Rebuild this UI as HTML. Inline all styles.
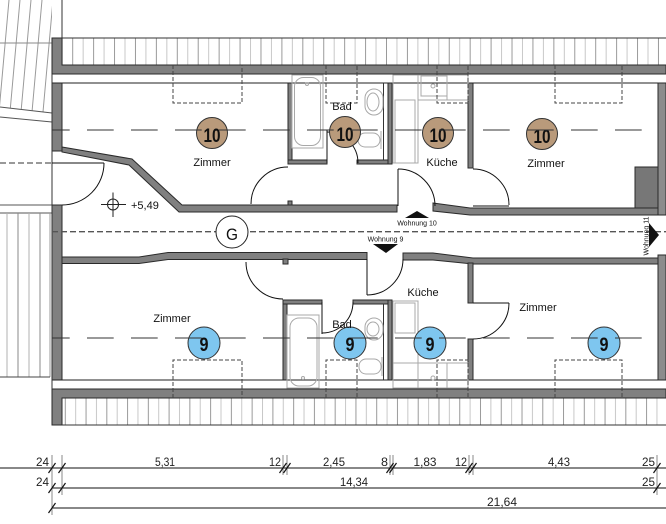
<!DOCTYPE html>
<html><head><meta charset="utf-8">
<style>
html,body{margin:0;padding:0;background:#fff;}
svg{display:block;}
text{font-family:"Liberation Sans",Arial,sans-serif;}
</style></head><body>
<svg width="666" height="524" viewBox="0 0 666 524" xmlns="http://www.w3.org/2000/svg">
<defs>
<pattern id="ht" patternUnits="userSpaceOnUse" x="71.7" y="0" width="20.92" height="20">
<line x1="1" y1="0" x2="1" y2="20" stroke="#9a9a9a" stroke-width="1"/>
<line x1="11.46" y1="0" x2="11.46" y2="20" stroke="#c8c8c8" stroke-width="1"/>
</pattern>
<pattern id="hb" patternUnits="userSpaceOnUse" x="64.3" y="0" width="20.76" height="20">
<line x1="1" y1="0" x2="1" y2="20" stroke="#9a9a9a" stroke-width="1"/>
<line x1="11.38" y1="0" x2="11.38" y2="20" stroke="#c8c8c8" stroke-width="1"/>
</pattern>
<clipPath id="cs1"><polygon points="0,0 52,0 52,113 0,107"/></clipPath>
</defs>
<rect width="666" height="524" fill="#fff"/>

<!-- top-left stair -->
<g clip-path="url(#cs1)" stroke-width="1" stroke="#9a9a9a">
<line x1="-12" y1="112" x2="-2" y2="0"/>
<line x1="-1" y1="112" x2="9" y2="0"/>
<line x1="10" y1="112" x2="20" y2="0"/>
<line x1="21" y1="112" x2="31" y2="0"/>
<line x1="32" y1="112" x2="42" y2="0"/>
<line x1="43" y1="112" x2="53" y2="0"/>
</g>
<line x1="0" y1="43" x2="52" y2="43" stroke="#888"/>
<line x1="0" y1="107" x2="52" y2="113" stroke="#555"/>
<line x1="0" y1="117" x2="52" y2="122" stroke="#555"/>
<line x1="62" y1="0" x2="62" y2="38" stroke="#333"/>
<line x1="0" y1="163" x2="52" y2="163" stroke="#333" stroke-dasharray="6 3"/>

<!-- bottom-left stair -->
<line x1="0" y1="205" x2="52" y2="205" stroke="#555"/>
<line x1="0" y1="213" x2="52" y2="213" stroke="#555"/>
<line x1="7" y1="213" x2="7" y2="377" stroke="#b0b0b0"/>
<line x1="18" y1="213" x2="18" y2="377" stroke="#888"/>
<line x1="29" y1="213" x2="29" y2="377" stroke="#b0b0b0"/>
<line x1="40" y1="213" x2="40" y2="377" stroke="#888"/>
<line x1="50" y1="213" x2="50" y2="377" stroke="#999"/>
<line x1="0" y1="377" x2="50" y2="377" stroke="#444"/>

<!-- roof hatch top/bottom -->
<rect x="62" y="38.5" width="604" height="26.5" fill="url(#ht)"/>
<line x1="52" y1="38" x2="666" y2="38" stroke="#333"/>
<rect x="62" y="398" width="604" height="27" fill="url(#hb)"/>
<line x1="52" y1="425" x2="666" y2="425" stroke="#333"/>

<g fill="#808080" stroke="#2a2a2a" stroke-width="1">
<polygon points="52,38 62,38 62,65 666,65 666,74 52,74"/>
<polygon points="52,389 666,389 666,398 62,398 62,425 52,425"/>
<rect x="52" y="83" width="10" height="68"/>
<polygon points="62,147 132,159 182,205 397,205 397,212 179,212 129,165 62,152"/>
<rect x="288" y="201" width="4" height="4"/>
<polygon points="433,203 470,208 658,208 658,215 470,215 433,211"/>
<rect x="52" y="205" width="10" height="175"/>
<polygon points="62,257 139,257 168,252.5 367,252.5 367,259.5 168,259.5 139,263.5 62,263.5"/>
<rect x="283" y="259" width="5" height="5"/>
<polygon points="403,253 433,253 473,258 658,258 658,264 473,264 433,260 403,260"/>
<!-- inner walls top -->
<rect x="288" y="83" width="4" height="81"/>
<rect x="288" y="160" width="39" height="4"/>
<rect x="357" y="160" width="35" height="4"/>
<rect x="388" y="83" width="4" height="81"/>
<rect x="468" y="83" width="5" height="85"/>
<!-- inner walls bottom -->
<rect x="283" y="300" width="4" height="80"/>
<rect x="283" y="300" width="39" height="4"/>
<rect x="353" y="300" width="39" height="4"/>
<rect x="388" y="300" width="4" height="80"/>
<rect x="468" y="263" width="5" height="40"/>
<rect x="468" y="339" width="5" height="41"/>
</g>
<g stroke="#2a2a2a" stroke-width="1">
<rect x="658" y="83" width="8" height="132" fill="#8c8c8c"/>
<rect x="635" y="167" width="23" height="41" fill="#777"/>
<rect x="658" y="255" width="8" height="125" fill="#8c8c8c"/>
</g>
<line x1="52" y1="83" x2="658" y2="83" stroke="#222"/>
<line x1="52" y1="380" x2="658" y2="380" stroke="#222"/>
<line x1="52" y1="74" x2="52" y2="389" stroke="#333"/>
<line x1="383.5" y1="83" x2="383.5" y2="160" stroke="#333"/>
<line x1="383.5" y1="304" x2="383.5" y2="380" stroke="#333"/>

<!-- furniture -->
<g fill="none" stroke="#a8a8a8" stroke-width="1">
<rect x="292" y="75" width="31" height="73"/>
<rect x="294.5" y="77.5" width="26" height="68" rx="9"/>
<circle cx="307" cy="84" r="1.5"/>
<rect x="365" y="89" width="18" height="26" rx="9"/>
<ellipse cx="373" cy="102" rx="6" ry="9"/>
<rect x="358" y="133" width="22" height="14" rx="7"/>
<line x1="381" y1="131" x2="381" y2="149"/>
<rect x="393" y="75" width="25" height="88"/>
<rect x="395" y="100" width="20" height="63"/>
<rect x="418" y="75" width="50" height="25"/>
<rect x="421" y="76" width="26" height="20"/>
<circle cx="433" cy="86" r="2"/>
<line x1="447" y1="75" x2="447" y2="100"/>
<!-- bottom -->
<rect x="287" y="315" width="32" height="73"/>
<rect x="290" y="318" width="27" height="68" rx="9"/>
<circle cx="303" cy="378" r="1.5"/>
<rect x="365" y="318" width="18" height="22" rx="9"/>
<ellipse cx="373" cy="329" rx="6" ry="7"/>
<rect x="359" y="359" width="22" height="15" rx="7"/>
<line x1="382" y1="357" x2="382" y2="376"/>
<rect x="393" y="301" width="25" height="87"/>
<rect x="395" y="303" width="20" height="30"/>
<rect x="393" y="363" width="25" height="25"/>
<rect x="418" y="363" width="29" height="25"/>
<rect x="447" y="363" width="21" height="25"/>
<circle cx="433" cy="378" r="2"/>
</g>

<!-- skylights -->
<g fill="none" stroke="#444" stroke-width="1" stroke-dasharray="4 2">
<path d="M173,65 V103 H242 V65"/>
<path d="M326,65 V103 H357 V65"/>
<path d="M437,65 V103 H468 V65"/>
<path d="M555,65 V103 H622 V65"/>
<path d="M173,398 V360 H242 V398"/>
<path d="M326,398 V360 H357 V398"/>
<path d="M437,398 V360 H468 V398"/>
<path d="M555,398 V360 H622 V398"/>
</g>

<!-- doors -->
<g fill="none" stroke="#111" stroke-width="1">
<line x1="52" y1="163" x2="104" y2="163"/>
<path d="M104,163 A42,42 0 0,1 62,205"/>
<path d="M251,204 A37,37 0 0,1 288,167"/>
<line x1="327" y1="130" x2="327" y2="163"/>
<path d="M327,132 A31,31 0 0,1 358,163"/>
<line x1="398" y1="169" x2="398" y2="206"/>
<path d="M398,169 A37,37 0 0,1 435,206"/>
<line x1="473" y1="206" x2="509" y2="206"/>
<path d="M473,169 A36,36 0 0,1 509,205"/>
<path d="M246,262 A37,37 0 0,0 283,299"/>
<line x1="322" y1="302" x2="322" y2="334"/>
<path d="M322,333 A31,31 0 0,0 353,302"/>
<line x1="367" y1="259" x2="367" y2="295"/>
<path d="M367,295 A36,36 0 0,0 403,259"/>
<line x1="473" y1="303" x2="509" y2="303"/>
<path d="M509,303 A36,36 0 0,1 473,339"/>
</g>

<!-- corridor -->
<line x1="52" y1="231.7" x2="666" y2="231.7" stroke="#555" stroke-width="1.3" stroke-dasharray="6 3"/>
<circle cx="232" cy="232" r="16" fill="#fff" stroke="#222"/>
<text x="232" y="240" font-size="17" text-anchor="middle" textLength="12" lengthAdjust="spacingAndGlyphs" fill="#111">G</text>
<polygon points="405,218 429,218 417,211" fill="#111"/>
<text x="417" y="225.5" font-size="7" text-anchor="middle" fill="#111">Wohnung 10</text>
<polygon points="373,244 398,244 386,253" fill="#111"/>
<text x="385.5" y="241.5" font-size="7" text-anchor="middle" fill="#111">Wohnung 9</text>
<polygon points="649,223 649,247 659,235" fill="#111"/>
<text transform="translate(648.5,236) rotate(-90)" font-size="7" text-anchor="middle" fill="#111">Wohnung 11</text>

<!-- level -->
<g stroke="#222" stroke-width="1" fill="none">
<circle cx="113" cy="204.5" r="5.5"/>
<line x1="101" y1="204.5" x2="126" y2="204.5"/>
<line x1="113" y1="192.5" x2="113" y2="217"/>
</g>
<text x="131" y="209" font-size="11" fill="#111">+5,49</text>

<!-- circles -->
<g stroke="#333" stroke-width="1">
<circle cx="212" cy="133" r="15.5" fill="#b99a7b"/>
<circle cx="345" cy="132" r="15.5" fill="#b99a7b"/>
<circle cx="438" cy="133" r="15.5" fill="#b99a7b"/>
<circle cx="542" cy="134" r="15.5" fill="#b99a7b"/>
<circle cx="204" cy="343" r="16" fill="#7ec6ef"/>
<circle cx="350" cy="343" r="16" fill="#7ec6ef"/>
<circle cx="430" cy="343" r="16" fill="#7ec6ef"/>
<circle cx="604" cy="343" r="16" fill="#7ec6ef"/>
</g>
<g font-size="19" font-weight="bold" text-anchor="middle" fill="#111">
<text x="212" y="142" textLength="17" lengthAdjust="spacingAndGlyphs">10</text>
<text x="345" y="141" textLength="17" lengthAdjust="spacingAndGlyphs">10</text>
<text x="438" y="142" textLength="17" lengthAdjust="spacingAndGlyphs">10</text>
<text x="542" y="143" textLength="17" lengthAdjust="spacingAndGlyphs">10</text>
<text x="204" y="351" textLength="9" lengthAdjust="spacingAndGlyphs">9</text>
<text x="350" y="351" textLength="9" lengthAdjust="spacingAndGlyphs">9</text>
<text x="430" y="351" textLength="9" lengthAdjust="spacingAndGlyphs">9</text>
<text x="604" y="351" textLength="9" lengthAdjust="spacingAndGlyphs">9</text>
</g>

<!-- axis lines -->
<line x1="52" y1="130" x2="645" y2="130" stroke="#333" stroke-width="1.1" stroke-dasharray="26.7 17.3" stroke-dashoffset="9"/>
<line x1="52" y1="338" x2="645" y2="338" stroke="#333" stroke-width="1.1" stroke-dasharray="26.7 17.3" stroke-dashoffset="9"/>

<!-- room labels -->
<g font-size="11" text-anchor="middle" fill="#111">
<text x="212" y="166">Zimmer</text>
<text x="342" y="110">Bad</text>
<text x="442" y="166">Küche</text>
<text x="546" y="167">Zimmer</text>
<text x="172" y="322">Zimmer</text>
<text x="342" y="328">Bad</text>
<text x="423" y="296">Küche</text>
<text x="538" y="311">Zimmer</text>
</g>

<!-- dimensions -->
<g stroke="#111" stroke-width="1">
<line x1="0" y1="468" x2="666" y2="468"/>
<line x1="52" y1="488" x2="666" y2="488"/>
<line x1="52" y1="508" x2="666" y2="508"/>
</g>
<g stroke="#8a8a8a" stroke-width="1">
<line x1="52" y1="455" x2="52" y2="515"/>
<line x1="62" y1="455" x2="62" y2="495"/>
<line x1="283" y1="455" x2="283" y2="475"/>
<line x1="287" y1="455" x2="287" y2="475"/>
<line x1="390" y1="455" x2="390" y2="475"/>
<line x1="393" y1="455" x2="393" y2="475"/>
<line x1="469" y1="455" x2="469" y2="475"/>
<line x1="473" y1="455" x2="473" y2="475"/>
<line x1="657" y1="455" x2="657" y2="495"/>
</g>
<g stroke="#111" stroke-width="1.2">
<line x1="48.5" y1="473" x2="55.5" y2="463"/>
<line x1="58.5" y1="473" x2="65.5" y2="463"/>
<line x1="279.5" y1="473" x2="286.5" y2="463"/>
<line x1="283.5" y1="473" x2="290.5" y2="463"/>
<line x1="386.5" y1="473" x2="393.5" y2="463"/>
<line x1="389.5" y1="473" x2="396.5" y2="463"/>
<line x1="465.5" y1="473" x2="472.5" y2="463"/>
<line x1="469.5" y1="473" x2="476.5" y2="463"/>
<line x1="653.5" y1="473" x2="660.5" y2="463"/>
<line x1="48.5" y1="493" x2="55.5" y2="483"/>
<line x1="58.5" y1="493" x2="65.5" y2="483"/>
<line x1="653.5" y1="493" x2="660.5" y2="483"/>
<line x1="48.5" y1="513" x2="55.5" y2="503"/>
</g>
<g font-size="12" fill="#222">
<text x="49" y="466" text-anchor="end" textLength="13" lengthAdjust="spacingAndGlyphs">24</text>
<text x="165" y="466" text-anchor="middle" textLength="20" lengthAdjust="spacingAndGlyphs">5,31</text>
<text x="281" y="466" text-anchor="end" textLength="12" lengthAdjust="spacingAndGlyphs">12</text>
<text x="334" y="466" text-anchor="middle" textLength="22" lengthAdjust="spacingAndGlyphs">2,45</text>
<text x="388" y="466" text-anchor="end" textLength="7" lengthAdjust="spacingAndGlyphs">8</text>
<text x="425" y="466" text-anchor="middle" textLength="23" lengthAdjust="spacingAndGlyphs">1,83</text>
<text x="467" y="466" text-anchor="end" textLength="12" lengthAdjust="spacingAndGlyphs">12</text>
<text x="559" y="466" text-anchor="middle" textLength="22" lengthAdjust="spacingAndGlyphs">4,43</text>
<text x="655" y="466" text-anchor="end" textLength="13" lengthAdjust="spacingAndGlyphs">25</text>
<text x="49" y="486" text-anchor="end" textLength="13" lengthAdjust="spacingAndGlyphs">24</text>
<text x="354" y="486" text-anchor="middle" textLength="28" lengthAdjust="spacingAndGlyphs">14,34</text>
<text x="655" y="486" text-anchor="end" textLength="13" lengthAdjust="spacingAndGlyphs">25</text>
<text x="502" y="506" text-anchor="middle" textLength="30" lengthAdjust="spacingAndGlyphs">21,64</text>
</g>
</svg>
</body></html>
